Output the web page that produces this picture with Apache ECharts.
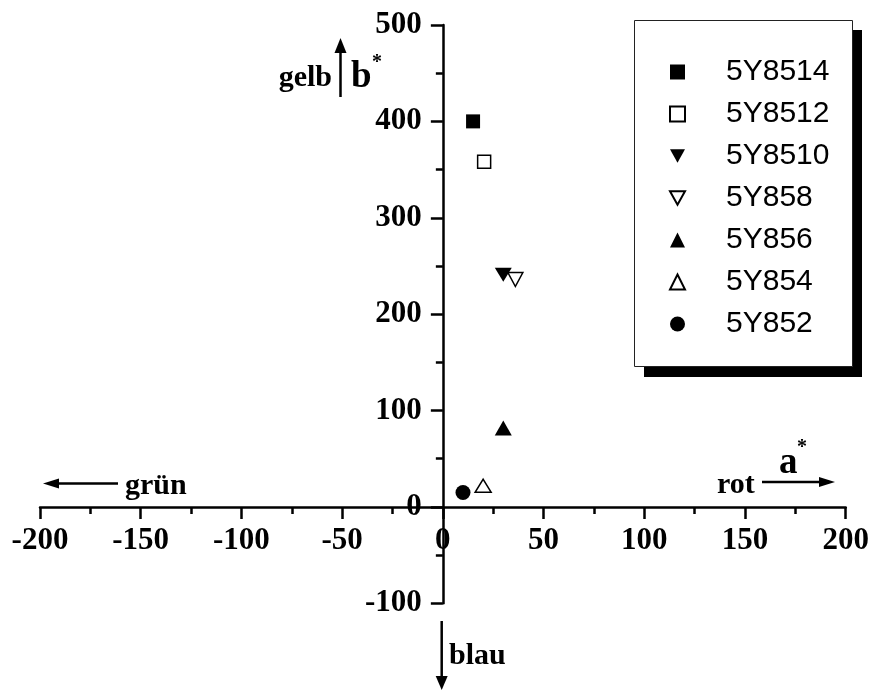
<!DOCTYPE html>
<html><head><meta charset="utf-8">
<script src="https://cdn.jsdelivr.net/npm/echarts@6/dist/echarts.min.js"></script>
<style>html,body{margin:0;padding:0;background:#fff}#c{width:869px;height:691px}</style>
</head><body><div id="c"></div>
<script>
// ---- data ----
const seriesNames = ['5Y8514', '5Y8512', '5Y8510', '5Y858', '5Y856', '5Y854', '5Y852'];
const aValues = [15, 20.5, 30, 36, 30, 20, 10];
const bValues = [400, 358, 241, 236, 82, 22, 15];
const xRange = [-200, 200];
const xStep = 50;
const yRange = [-100, 500];
const yStep = 100;

// ---- styles ----
const downTri = 'path://M0,0 L10,0 L5,9 Z';
const symbolTypes = ['rect', 'rect', downTri, downTri, 'triangle', 'triangle', 'circle'];
const filled = [true, false, true, false, true, false, true];
const symSizes = [[14, 14], [13, 13], [17, 14], [15, 14], [17, 15], [16, 13], [15, 15]];

const serif = '"Liberation Serif","Times New Roman",serif';
const sans = '"Liberation Sans",Arial,sans-serif';

const series = seriesNames.map((n, i) => ({
  name: n,
  type: 'scatter',
  symbol: symbolTypes[i],
  symbolSize: symSizes[i],
  symbolKeepAspect: false,
  itemStyle: filled[i] ? { color: '#000', borderWidth: 0, opacity: 1 } : { color: '#fff', borderColor: '#000', borderWidth: 1.5, opacity: 1 },
  data: [[aValues[i], bValues[i]]],
  z: 5
}));

function arrow(x1, y1, x2, y2, head, half) {
  const dx = x2 - x1, dy = y2 - y1, L = Math.hypot(dx, dy);
  const ux = dx / L, uy = dy / L;
  const bx = x2 - ux * head, by = y2 - uy * head;
  return [
    { type: 'line', shape: { x1: x1, y1: y1, x2: bx + ux * 2, y2: by + uy * 2 }, style: { stroke: '#000', lineWidth: 2.5 } },
    { type: 'polygon', shape: { points: [[x2, y2], [bx - uy * half, by + ux * half], [bx + uy * half, by - ux * half]] }, style: { fill: '#000' } }
  ];
}
function txt(x, y, t, size, align, family, weight) {
  return { type: 'text', x: x, y: y, style: { text: t, fontSize: size, fontFamily: family || serif, fontWeight: weight || 'bold', fill: '#000', align: align || 'left', verticalAlign: 'middle' } };
}

const graphics = [
  { type: 'rect', shape: { x: 644, y: 30, width: 218, height: 347 }, style: { fill: '#000' }, z: 1 },
  { type: 'rect', shape: { x: 634.5, y: 20.5, width: 218, height: 346 }, style: { fill: '#fff', stroke: '#222', lineWidth: 1 }, z: 1 },
  ...arrow(340.5, 97, 340.5, 38, 15, 6),
  ...arrow(118, 483.5, 43, 483.5, 16, 5),
  ...arrow(762, 482, 835, 482, 16, 5),
  ...arrow(441.7, 621, 441.7, 690, 14, 6),
  txt(332, 78, 'gelb', 30, 'right'),
  txt(351, 77, 'b', 37, 'left'),
  txt(372, 63, '*', 20, 'left'),
  txt(125, 486, 'grün', 30, 'left'),
  txt(717, 485, 'rot', 30, 'left'),
  txt(779, 463, 'a', 37, 'left'),
  txt(797, 448, '*', 20, 'left'),
  txt(449, 656, 'blau', 30, 'left')
];

const axisCommon = {
  type: 'value',
  axisLine: { show: true, onZero: false, lineStyle: { color: '#000', width: 2.5 } },
  axisTick: { show: true, length: 12, lineStyle: { color: '#000', width: 2.5 } },
  minorTick: { show: true, splitNumber: 2, length: 7, lineStyle: { color: '#000', width: 2.5 } },
  splitLine: { show: false },
  minorSplitLine: { show: false },
  axisLabel: { color: '#000', fontFamily: serif, fontWeight: 'bold', fontSize: 31, showMinLabel: true, showMaxLabel: true, hideOverlap: false }
};

const G = { left: 40, right: 23.3, top: 25, bottom: 87.7 };
const gw = 869 - G.left - G.right, gh = 691 - G.top - G.bottom;
// axes cross at zero: offset each axis from its grid edge to the zero of the other axis
const xOffset = -(gh * (0 - yRange[0]) / (yRange[1] - yRange[0]));
const yOffset = -(gw * (0 - xRange[0]) / (xRange[1] - xRange[0]));

const chart = echarts.init(document.getElementById('c'), null, { renderer: 'canvas' });
chart.setOption({
  animation: false,
  backgroundColor: '#fff',
  grid: { left: G.left, right: G.right, top: G.top, bottom: G.bottom, containLabel: false, outerBoundsMode: 'none' },
  xAxis: Object.assign({}, axisCommon, {
    position: 'bottom', offset: xOffset,
    min: xRange[0], max: xRange[1], interval: xStep,
    axisLabel: Object.assign({}, axisCommon.axisLabel, { margin: 19 })
  }),
  yAxis: Object.assign({}, axisCommon, {
    position: 'left', offset: yOffset,
    min: yRange[0], max: yRange[1], interval: yStep,
    axisLabel: Object.assign({}, axisCommon.axisLabel, { margin: 21 })
  }),
  legend: {
    orient: 'vertical', left: 669, top: 57, padding: 0,
    itemWidth: 15, itemHeight: 15, itemGap: 12,
    selectedMode: false,
    data: seriesNames,
    formatter: n => '{t|' + n + '}',
    textStyle: { color: '#000', fontFamily: sans, fontSize: 30, lineHeight: 30,
      rich: { t: { padding: [0, 0, 0, 36], color: '#000', fontFamily: sans, fontSize: 30, lineHeight: 30 } } }
  },
  graphic: { elements: graphics },
  series: series
});
</script></body></html>
